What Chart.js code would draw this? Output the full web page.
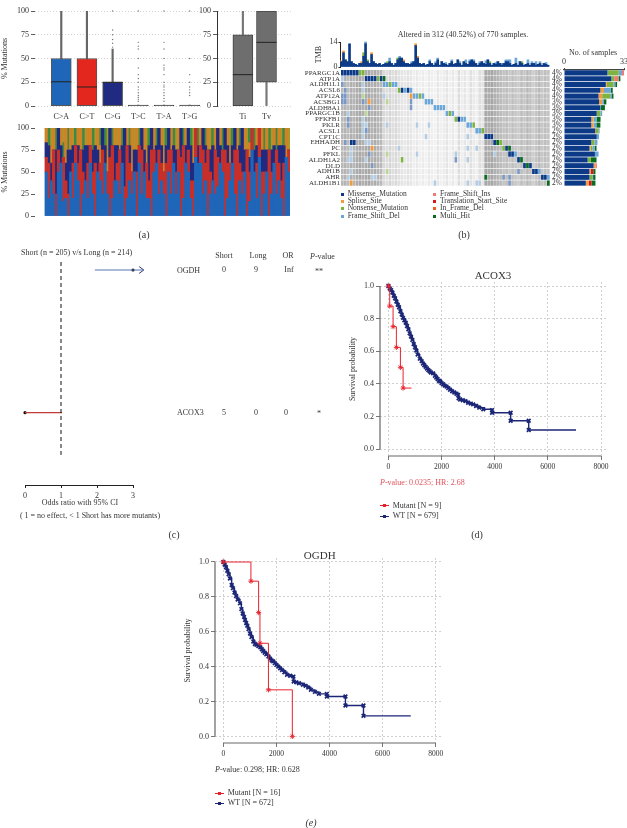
<!DOCTYPE html>
<html>
<head>
<meta charset="utf-8">
<title>Mutation panels</title>
<script src="https://cdn.jsdelivr.net/npm/chart.js@4"></script>
<style>
html, body { margin: 0; background: #fff; }
#page { position: relative; width: 627px; height: 828px; overflow: hidden; font-family: "Liberation Serif", serif; color: #333; filter: blur(0.3px); }
#page canvas { position: absolute; }
.txt { position: absolute; white-space: nowrap; line-height: 1; transform: translateY(-50%); opacity: 0.99; }
.ctr { transform: translate(-50%, -50%); }
.sq { position: absolute; width: 3px; height: 3px; }
.ln { position: absolute; width: 9px; height: 1px; }
.mk { position: absolute; width: 3px; height: 3px; }
</style>
</head>
<body>
<div id="page"></div>
<script>
// panel a, box plots
const classNames = ['C>A', 'C>T', 'C>G', 'T>C', 'T>A', 'T>G'];
const classColors = ['#1f66b8', '#e3261e', '#1f2a80', '#a0a0a0', '#a0a0a0', '#a0a0a0'];
const classQ1 = [0, 0, 0, 0, 0, 0];
const classQ3 = [50, 50, 25, 1, 1, 1];
const classMedian = [25.5, 20, 25, 0, 0, 0];
const classWhisker = [100, 100, 60, 1, 1, 1];
const outliersCG = [62, 66, 70, 75, 80, 100];
const outliersTC = [5, 7, 9, 11, 14, 17, 20, 25, 29, 33, 40, 50, 60, 63, 67, 100];
const outliersTA = [5, 8, 11, 14, 17, 20, 22, 25, 33, 38, 40, 43, 50, 60, 67, 100];
const outliersTG = [11, 14, 17, 20, 25, 33, 50, 100];
const titvNames = ['Ti', 'Tv'];
const titvQ1 = [0, 25];
const titvQ3 = [75, 100];
const titvMedian = [33, 67];
const titvLow = [0, 0];
const titvHigh = [100, 100];
const pctTicks = [0, 25, 50, 75, 100];

// panel a, per sample counts of each class
const countCA = [3,1,2,1,0,2,3,1,1,0,2,1,3,2,0,1,2,1,3,1,0,2,2,1,3,1,0,1,2,2,1,3,0,1,2,1,2,0,3,1,2,1,1,0,2,3,1,2,1,0,2,1,3,1,2,0,1,3,2,1,0,2,3,3,1,2,0,1,2,1,1,3,2,0,1,2,3,1,0,2,1,2,0,1,3,2,1,2,0,1,2,0,1,3,1,2,1,0,2,2];
const countCT = [1,2,0,2,1,1,0,3,1,1,0,2,1,1,3,1,0,2,1,1,3,0,1,2,0,1,2,3,0,1,2,0,1,3,1,1,0,2,1,2,0,2,1,3,1,0,2,1,1,3,1,2,0,1,1,2,3,0,1,1,2,1,0,1,2,1,3,1,0,2,1,0,1,3,2,1,0,2,3,1,1,0,3,2,1,0,2,1,2,1,0,3,1,0,2,1,1,3,0,1];
const countCG = [1,1,1,0,2,1,1,0,1,2,1,1,0,1,0,1,2,1,0,1,1,1,0,1,1,0,1,0,2,1,0,1,2,0,1,0,1,1,0,1,1,0,2,1,0,1,1,1,0,1,1,0,1,1,0,1,0,1,1,2,1,0,1,0,1,1,0,1,2,0,1,1,0,1,1,0,1,1,0,1,2,1,0,1,0,1,1,0,1,1,1,0,1,1,0,1,2,1,0,0];
const countTC = [1,0,1,1,0,0,1,0,2,0,1,0,0,1,1,0,0,1,1,0,0,1,1,0,0,1,0,0,1,0,1,0,0,1,0,2,0,1,0,0,1,1,0,0,1,0,0,1,1,0,0,1,0,0,1,0,0,1,0,0,1,0,0,1,0,0,1,0,0,1,0,1,0,0,1,1,0,0,1,0,0,1,0,1,0,0,1,0,1,0,1,0,0,1,0,1,0,0,1,0];
const countTA = [0,1,0,0,1,0,0,1,0,1,0,0,1,0,0,1,0,0,0,1,0,0,1,0,1,0,0,1,0,0,0,1,0,0,1,0,0,0,1,0,0,0,1,0,0,1,0,0,0,1,0,0,1,0,0,0,1,0,0,1,0,0,1,0,0,1,0,0,1,0,0,0,1,0,0,0,1,0,0,1,0,0,0,1,0,1,0,0,0,1,0,1,0,0,1,0,0,1,0,0];
const countTG = [0,0,1,0,0,0,0,1,0,0,0,1,0,0,0,0,1,0,0,0,1,0,0,0,0,1,0,0,0,1,0,0,0,0,0,0,1,0,0,0,0,1,0,0,0,0,0,0,1,0,0,0,0,1,0,0,0,0,0,0,1,0,0,0,0,0,0,1,0,0,0,0,0,0,0,1,0,0,0,0,0,0,1,0,0,0,0,0,0,0,0,0,1,0,0,0,1,0,0,1];
const stackColors = ['#1f66b8', '#c62f2a', '#1f2a80', '#cf8226', '#3d8a45', '#b0962a'];

// panel b, oncoplot
const geneNames = ['PPARGC1A', 'ATP1A', 'ALDH1L1', 'ACSL6', 'ATP12A', 'ACSBG1', 'ALDH8A1', 'PPARGC1B', 'PFKFB1', 'PKLR', 'ACSL1', 'CPT1C', 'EHHADH', 'PC', 'PFKL', 'ALDH1A2', 'DLD', 'ADH1B', 'AHR', 'ALDH1B1'];
const genePercents = ['4%', '4%', '4%', '4%', '4%', '3%', '3%', '3%', '3%', '3%', '2%', '2%', '2%', '2%', '2%', '2%', '2%', '2%', '2%', '2%'];
const columnGreys = ['#b8b8b8', '#b4b4b4', '#bcbcbc', '#b0b0b0', '#b6b6b6', '#acacac', '#a8a8a8', '#b0b0b0', '#aaaaaa', '#a8a8a8', '#b2b2b2', '#acacac', '#b4b4b4', '#b8b8b8', '#d8d8d8', '#dcdcdc', '#d4d4d4', '#dedede', '#d8d8d8', '#e0e0e0', '#e4e4e4', '#e8e8e8', '#e2e2e2', '#e6e6e6', '#eeeeee', '#e8e8e8', '#f0f0f0', '#ececec', '#f2f2f2', '#e8e8e8', '#eeeeee', '#f2f2f2', '#e6e6e6', '#f0f0f0', '#ececec', '#e4e4e4', '#f0f0f0', '#e8e8e8', '#f2f2f2', '#dcdcdc', '#eeeeee', '#e6e6e6', '#f0f0f0', '#e0e0e0', '#eaeaea', '#f0f0f0', '#dedede', '#e4e4e4', '#a8a8a8', '#acacac', '#a6a6a6', '#b0b0b0', '#b4b4b4', '#bababa', '#c2c2c2', '#bcbcbc', '#c8c8c8', '#bebebe', '#c4c4c4', '#cacaca', '#bcbcbc', '#c6c6c6', '#b8b8b8', '#c0c0c0', '#cccccc', '#c2c2c2', '#b8b8b8', '#c6c6c6', '#bebebe', '#c4c4c4'];
const geneMarks = [
  'M0 M1 M2 M3 M4 M5 N6 N7',
  'L0 M8 M9 M10 M11 N12 M13 H14',
  'P0 L7 D14 D15 N16 D17 D18',
  'P1 L7 N19 M20 D21 M22 D23',
  'P0 P1 O7 L14 S23 D24 D25 N26 D27',
  'P0 P1 P7 S9 O15 P23 D28 D29 D30',
  'P9 P23 D31 D32 D33 D34',
  'L2 O8 D35 N36 D37',
  'P2 L7 N38 M39 D40 D41',
  'P2 L7 L8 L15 L25 L29 D42 D43 N44',
  'L7 P8 D45 D46 N47',
  'L7 L28 L42 M48 M49 M50',
  'P1 M3 M4 L8 L9 M51 H52 N53',
  'L3 S10 L19 L42 L45 N54 M55 H56',
  'L3 P9 O15 L25 L38 L51 M56 M57 D58',
  'L2 L3 L8 N20 P38 L42 M59 H60',
  'P10 M61 H62 M63',
  'L3 O15 P59 M64 M65 D66',
  'L2 L10 L11 H48 P54 P56 M67 M68 D69',
  'S3 L31 L42 L45 L46 P56 H69'
];
const markTypes = ['M', 'S', 'N', 'D', 'I', 'T', 'F', 'H'];
const markNames = ['Missense_Mutation', 'Splice_Site', 'Nonsense_Mutation', 'Frame_Shift_Del', 'Frame_Shift_Ins', 'Translation_Start_Site', 'In_Frame_Del', 'Multi_Hit'];
const markColors = ['#0c3a87', '#f49a3c', '#7fb341', '#6ba6d6', '#ef7a7a', '#d7191c', '#e8601c', '#0a6a1e'];
// single thin marks off the waterfall read paler in the picture
const paleTypes = ['P', 'L', 'O'];
const paleColors = ['#7c98c4', '#b4cce2', '#bcd69a'];

// panel b, samples per gene by type
const barMissense = [23.9, 26, 23, 20, 19, 19.3, 20, 18, 15, 15, 17.2, 18, 15, 14, 17, 13, 16.3, 14, 14, 12];
const barSplice = [0, 0, 0.6, 2, 2, 1.7, 0, 0, 1.1, 1.3, 0.4, 0, 0, 0.7, 0, 0, 0.9, 0.6, 0, 1.6];
const barNonsense = [6.2, 1.6, 3.6, 0, 4.4, 0, 0, 2, 0.3, 0, 1.5, 0, 1.8, 0.9, 0, 1.8, 0, 0, 1.5, 0];
const barFsDel = [1.8, 0, 1, 3.7, 0.7, 1, 0.3, 1, 1.5, 1.5, 0.5, 1.3, 1.6, 1.3, 2, 0, 0, 0, 0.5, 0];
const barFsIns = [1.1, 2.4, 0, 0, 0, 0, 0, 0, 0, 0, 0, 0, 0, 0, 0, 0, 0.9, 0, 0, 0];
const barTransl = [0, 0, 0, 0, 0, 0, 0, 0, 0, 0, 0, 0, 0, 0, 0, 0, 0, 1.5, 0, 1.5];
const barInFrame = [0, 0, 0, 0, 0, 0, 0, 0, 0, 0, 0, 0, 0, 0, 0, 0, 0, 0, 0, 0];
const barMulti = [0, 1, 1, 1.1, 1.1, 1.3, 2.2, 0, 2.2, 2.2, 0, 0, 0, 1, 0, 3.1, 0, 1.2, 1.3, 2.2];

// panel b, tmb bars
const tmbMissense = [3,8,4,3,12,3,2,1.5,1,2,2,6,13,3,2,7,3,2,1.5,2,1,1.5,2,2,3,2,1,2,4,5,5,3,2,2,1.5,2,3,12,5,2,1.5,2,1,1.5,3,2,1,2,4,1,3,2,1.5,1,2,3,1.5,2,4,2,1,3,2,1.5,3,4,3,2,1,2,3,2,1.5,4,2,1,2,1.5,3,2,1,2,3,3,2,1,1.5,2,1,3,2,1,1.5,2,1,2,2,1,1.5,2,1,2,1.5,1];
const tmbOther = [0.5,1,0,0,1,0,0,0,0,0,1,2,1,1,0,1,0,0,0,0,0,0,0.5,1,2,0,0,0,1,1,0,1,0,0,0,1,0,1,1,0,0,0,0,0,1,0,0,1,1,0,0,0,1,0,0,1,0,0,0,1,0,0,2,0,1,0,1,0,0,1,0,0,2,0,1,0,0,1,0,0,1,0,1,1,2,0,0,3,0,0,1,0,0,2,0,1,0,2,0,1,0,0,1,0];
const tmbOtherTypes = 'SSNNMDDDDDSNDNNSDDDDDDDNDDDDNDDSDDDDDSSDDDDDDDNDDDDDDDDDNDDDNSDNDDDDDDSDDDNDDDDDDDDDDDDDDDNDDDDDDDNDDDDDD';
const tmbTicks = [0, 14];
const sampleTicks = [0, 33];

// panel c, forest
const forestGenes = ['ACOX3', 'OGDH'];
const forestLow = [0, 1.94];
const forestHigh = [1.03, 3.3];
const forestOr = [0, 3];
const forestColors = ['#c23b3b', '#5a74ad'];
const forestTicks = [0, 1, 2, 3];

// panels d and e, survival
const kmDayTicks = [0, 2000, 4000, 6000, 8000];
const kmProbTicks = [0, 0.2, 0.4, 0.6, 0.8, 1];
const acoxWtDays = [0,50,100,150,200,250,300,350,400,450,500,550,600,650,700,750,800,850,900,950,1000,1050,1100,1180,1250,1300,1350,1400,1450,1500,1550,1600,1683,1750,1800,1850,1900,1950,2000,2060,2120,2186,2250,2320,2400,2480,2560,2625,2640,2700,2800,2900,3000,3100,3190,3300,3420,3570,3900,3900,4600,4600,5280,5280,7060];
const acoxWtProb = [1,0.985,0.975,0.96,0.94,0.925,0.905,0.885,0.87,0.845,0.825,0.805,0.79,0.775,0.755,0.735,0.71,0.69,0.67,0.645,0.625,0.605,0.58,0.555,0.54,0.525,0.515,0.505,0.495,0.485,0.478,0.47,0.465,0.45,0.44,0.43,0.42,0.415,0.405,0.398,0.39,0.384,0.375,0.365,0.355,0.348,0.34,0.333,0.312,0.305,0.3,0.295,0.285,0.28,0.275,0.265,0.255,0.245,0.24,0.224,0.224,0.175,0.175,0.118,0.118];
const acoxMutDays = [0, 50, 176, 300, 452, 553, 867];
const acoxMutProb = [1, 0.877, 0.751, 0.624, 0.502, 0.375, 0.375];
const ogdhWtDays = [0,50,100,150,200,250,314,360,420,480,540,628,680,730,780,816,860,900,950,1005,1060,1130,1190,1250,1320,1394,1450,1500,1560,1620,1700,1760,1820,1880,1940,2000,2070,2140,2210,2300,2400,2520,2640,2650,2750,2850,3000,3100,3200,3300,3450,3600,3900,3900,4600,4600,5280,5280,7060];
const ogdhWtProb = [1,0.985,0.97,0.95,0.93,0.905,0.868,0.85,0.825,0.805,0.785,0.763,0.73,0.705,0.685,0.668,0.65,0.635,0.615,0.59,0.57,0.544,0.53,0.525,0.518,0.511,0.5,0.49,0.48,0.47,0.458,0.445,0.435,0.43,0.42,0.41,0.4,0.39,0.38,0.368,0.353,0.348,0.343,0.315,0.31,0.305,0.296,0.29,0.28,0.267,0.255,0.244,0.244,0.229,0.229,0.177,0.177,0.118,0.118];
const ogdhMutDays = [0, 1040, 1330, 1380, 1700, 2600];
const ogdhMutProb = [1, 0.89, 0.71, 0.534, 0.267, 0];

const page = document.getElementById('page');
const SERIF = '"Liberation Serif", serif';
Chart.defaults.font.family = SERIF;
Chart.defaults.font.size = 8;
Chart.defaults.color = '#333';

function text(html, x, y, size, opts) {
  opts = opts || {};
  const el = document.createElement('div');
  el.className = 'txt' + (opts.center ? ' ctr' : '');
  el.innerHTML = html;
  el.style.left = x + 'px';
  el.style.top = y + 'px';
  el.style.fontSize = size + 'px';
  if (opts.color) el.style.color = opts.color;
  page.appendChild(el);
}

// box is the plot area in page pixels, margin is the room round it
function addChart(box, margin, config) {
  const canvas = document.createElement('canvas');
  const w = Math.round(box.right - box.left + margin.l + margin.r);
  const h = Math.round(box.bottom - box.top + margin.t + margin.b);
  canvas.width = w;
  canvas.height = h;
  canvas.style.left = (box.left - margin.l) + 'px';
  canvas.style.top = (box.top - margin.t) + 'px';
  canvas.style.width = w + 'px';
  canvas.style.height = h + 'px';
  page.appendChild(canvas);
  const used = {};
  Object.keys(config.options.scales).forEach(function (id) {
    const s = config.options.scales[id];
    const pos = s.position || (id[0] === 'y' ? 'left' : 'bottom');
    if (s.display === false) return;
    used[pos] = true;
    const size = { left: margin.l, right: margin.r, top: margin.t, bottom: margin.b }[pos];
    s.afterFit = function (scale) {
      if (pos === 'left' || pos === 'right') scale.width = size; else scale.height = size;
      scale.paddingLeft = scale.paddingRight = scale.paddingTop = scale.paddingBottom = 0;
    };
  });
  config.options.responsive = false;
  config.options.animation = false;
  config.options.events = [];
  config.options.plugins = { legend: { display: false }, tooltip: { enabled: false } };
  config.options.layout = { padding: {
    left: used.left ? 0 : margin.l,
    right: used.right ? 0 : margin.r,
    top: used.top ? 0 : margin.t,
    bottom: used.bottom ? 0 : margin.b
  } };
  return new Chart(canvas.getContext('2d'), config);
}

function fixedTicks(values) {
  return function (scale) { scale.ticks = values.map(function (v) { return { value: v }; }); };
}

function scatterOf(x, ys) {
  return ys.map(function (y) { return { x: x, y: y }; });
}

function boxDatasets(lows, q1s, q3s, highs, medians, colors, edge, whisker) {
  return [
    { type: 'bar', grouped: false, order: 3, barThickness: 1.5, backgroundColor: whisker,
      data: lows.map(function (v, i) { return { x: i, y: [v, highs[i]] }; }) },
    { type: 'bar', grouped: false, order: 2, barThickness: 20, backgroundColor: colors, borderColor: edge, borderWidth: 1, borderSkipped: false,
      data: q1s.map(function (v, i) { return { x: i, y: [v, q3s[i]] }; }) },
    { type: 'scatter', order: 1, pointStyle: 'line', pointRadius: 10, pointBorderColor: '#222', pointBorderWidth: 1,
      data: medians.map(function (v, i) { return { x: i, y: v }; }) }
  ];
}

function pctScale(border) {
  return {
    min: 0, max: 100,
    afterBuildTicks: fixedTicks(pctTicks),
    grid: { color: '#c8c8c8', lineWidth: 0.8, tickColor: '#333', tickLength: 4, tickBorderDash: [] },
    border: { display: border, color: '#333', dash: [1, 2] },
    ticks: { padding: 2, font: { size: 8 } }
  };
}

// class box plot
const classScale = pctScale(false);
classScale.title = { display: true, text: '% Mutations', padding: 0, font: { size: 8 } };
addChart({ left: 35, top: 4.3, right: 203, bottom: 106.3 }, { l: 35, t: 4, r: 14, b: 16 }, {
  type: 'bar',
  data: { datasets: boxDatasets(classQ1, classQ1, classQ3, classWhisker, classMedian, classColors, '#555', '#666').concat([
    { type: 'scatter', order: 4, pointRadius: 0.7, pointBackgroundColor: '#777', pointBorderWidth: 0, clip: false,
      data: scatterOf(2, outliersCG).concat(scatterOf(3, outliersTC), scatterOf(4, outliersTA), scatterOf(5, outliersTG)) }
  ]) },
  options: { scales: {
    x: { type: 'linear', offset: false, min: -1.023, max: 5.52, afterBuildTicks: fixedTicks([0, 1, 2, 3, 4, 5]),
      grid: { display: false, drawTicks: false, offset: false }, border: { display: false },
      ticks: { padding: 6, maxRotation: 0, autoSkip: false, callback: function (v) { return classNames[v]; }, font: { size: 8 } } },
    y: classScale
  } }
});

// transition / transversion
addChart({ left: 216.7, top: 4.3, right: 293, bottom: 106.3 }, { l: 20, t: 4, r: 10, b: 16 }, {
  type: 'bar',
  data: { datasets: boxDatasets(titvLow, titvQ1, titvQ3, titvHigh, titvMedian, ['#6e6e6e', '#6e6e6e'], '#444', '#777') },
  options: { scales: {
    x: { type: 'linear', offset: false, min: -1.096, max: 2.08, afterBuildTicks: fixedTicks([0, 1]),
      grid: { display: false, drawTicks: false, offset: false }, border: { display: false },
      ticks: { padding: 6, maxRotation: 0, autoSkip: false, callback: function (v) { return titvNames[v]; }, font: { size: 8 } } },
    y: pctScale(true)
  } }
});

// per sample stacks
const stackCounts = [countCA, countCT, countCG, countTC, countTA, countTG];
const stackScale = pctScale(false);
stackScale.grid.drawOnChartArea = false;
stackScale.stacked = true;
stackScale.title = { display: true, text: '% Mutations', padding: 0, font: { size: 8 } };
addChart({ left: 35, top: 127.7, right: 290, bottom: 215.7 }, { l: 35, t: 6, r: 6, b: 6 }, {
  type: 'bar',
  data: { datasets: stackCounts.map(function (counts, c) {
    return {
      backgroundColor: stackColors[c], barThickness: 2.6,
      data: counts.map(function (n, i) {
        const total = stackCounts.reduce(function (sum, list) { return sum + list[i]; }, 0);
        return { x: i, y: n / total * 100 };
      })
    };
  }) },
  options: { scales: {
    x: { type: 'linear', offset: false, display: false, stacked: true, min: -4.58, max: 99.5 },
    y: stackScale
  } }
}).canvas.style.filter = 'blur(0.7px)';

// oncoplot matrix
function markColor(rowIndex, col) {
  const tokens = geneMarks[rowIndex].split(' ');
  for (let i = 0; i < tokens.length; i++) {
    if (parseInt(tokens[i].slice(1), 10) !== col) continue;
    const t = tokens[i][0];
    return markTypes.indexOf(t) >= 0 ? markColors[markTypes.indexOf(t)] : paleColors[paleTypes.indexOf(t)];
  }
  return columnGreys[col];
}
const rowMid = geneNames.map(function (g, i) { return i + 0.5; });
addChart({ left: 340.7, top: 70, right: 549.3, bottom: 185.7 }, { l: 42, t: 6, r: 14, b: 6 }, {
  type: 'bar',
  data: {
    labels: columnGreys.map(function (g, i) { return i; }),
    datasets: geneNames.map(function (g, r) {
      return {
        label: g, barPercentage: 1, categoryPercentage: 1, borderSkipped: false,
        borderColor: 'rgba(255,255,255,0.75)', borderWidth: { right: 0.6, bottom: 0.7 },
        backgroundColor: columnGreys.map(function (c, col) { return markColor(r, col); }),
        data: columnGreys.map(function () { return 1; })
      };
    })
  },
  options: { scales: {
    x: { display: false, stacked: true },
    y: { stacked: true, reverse: true, min: 0, max: geneNames.length, afterBuildTicks: fixedTicks(rowMid),
      grid: { display: false, drawTicks: false }, border: { display: false },
      ticks: { padding: 1, autoSkip: false, font: { size: 7 }, callback: function (v) { return geneNames[Math.floor(v)]; } } },
    y2: { position: 'right', reverse: true, min: 0, max: geneNames.length, afterBuildTicks: fixedTicks(rowMid),
      grid: { display: false, drawTicks: false }, border: { display: false },
      ticks: { padding: 2, autoSkip: false, font: { size: 7.5 }, callback: function (v) { return genePercents[Math.floor(v)]; } } }
  } }
});

// tmb
addChart({ left: 340.7, top: 42, right: 549.3, bottom: 66.7 }, { l: 26.5, t: 6, r: 6, b: 6 }, {
  type: 'bar',
  data: {
    labels: tmbMissense.map(function (v, i) { return i; }),
    datasets: [
      { data: tmbMissense, backgroundColor: markColors[0], barPercentage: 1, categoryPercentage: 1, clip: false },
      { data: tmbOther, barPercentage: 1, categoryPercentage: 1, clip: false,
        backgroundColor: tmbOther.map(function (v, i) { return markColors[markTypes.indexOf(tmbOtherTypes[i])]; }) }
    ]
  },
  options: { scales: {
    x: { display: false, stacked: true },
    y: { stacked: true, min: 0, max: 14, afterBuildTicks: fixedTicks(tmbTicks),
      grid: { drawOnChartArea: false, tickColor: '#222', tickLength: 2 }, border: { color: '#222' },
      title: { display: true, text: 'TMB', padding: 0, font: { size: 8 } },
      ticks: { padding: 1, font: { size: 8 } } }
  } }
});

// samples per gene
addChart({ left: 563.7, top: 70, right: 623.7, bottom: 185.7 }, { l: 4, t: 14, r: 10, b: 3 }, {
  type: 'bar',
  data: {
    labels: geneNames,
    datasets: [barMissense, barSplice, barNonsense, barFsDel, barFsIns, barTransl, barInFrame, barMulti].map(function (values, t) {
      return { data: values, backgroundColor: markColors[t], barPercentage: 0.88, categoryPercentage: 1 };
    })
  },
  options: { indexAxis: 'y', scales: {
    x: { position: 'top', offset: false, stacked: true, min: 0, max: 33, afterBuildTicks: fixedTicks(sampleTicks),
      grid: { drawOnChartArea: false, tickColor: '#444', tickLength: 2 }, border: { color: '#444', width: 1.2 },
      ticks: { padding: 1, maxRotation: 0, font: { size: 8 } } },
    y: { display: false, stacked: true }
  } }
});

// forest plot
addChart({ left: 25.3, top: 262, right: 133.3, bottom: 485 }, { l: 6, t: 4, r: 16, b: 16 }, {
  type: 'scatter',
  data: { datasets: [
    { type: 'line', data: [{ x: 1, y: 2.056 }, { x: 1, y: 0.704 }], borderColor: '#111', borderWidth: 1, borderDash: [4, 3], pointRadius: 0, clip: false },
    { type: 'line', data: [{ x: forestLow[0], y: 1 }, { x: forestHigh[0], y: 1 }], borderColor: forestColors[0], borderWidth: 1.2, pointRadius: 0, clip: false },
    { type: 'line', data: [{ x: forestLow[1], y: 2 }, { x: forestHigh[1], y: 2 }], borderColor: forestColors[1], borderWidth: 1.2, pointRadius: 0, clip: false },
    { type: 'line', data: [{ x: forestHigh[1] - 0.13, y: 2.024 }, { x: forestHigh[1], y: 2 }, { x: forestHigh[1] - 0.13, y: 1.976 }], borderColor: '#2b3a6b', borderWidth: 1, pointRadius: 0, clip: false },
    { data: [{ x: forestOr[0], y: 1 }, { x: forestOr[1], y: 2 }], pointRadius: 1.6, pointBackgroundColor: '#111', pointBorderWidth: 0, clip: false }
  ] },
  options: { scales: {
    x: { type: 'linear', min: 0, max: 3, afterBuildTicks: fixedTicks(forestTicks),
      grid: { drawOnChartArea: false, tickColor: '#222', tickLength: 3 }, border: { color: '#222' },
      ticks: { padding: 3, font: { size: 8 } } },
    y: { type: 'linear', display: false, min: 0.493, max: 2.056 }
  } }
});

// survival curve helper
function kmPoints(days, probs) {
  return days.map(function (d, i) { return { x: d, y: probs[i] }; });
}
// no censor mark on a flat tail end
function tailHidden(probs, r) {
  return probs.map(function (p, i) { return i === probs.length - 1 && p === probs[i - 1] ? 0 : r; });
}
const spanAxes = {
  id: 'spanAxes',
  afterDraw: function (chart) {
    const c = chart.ctx, a = chart.chartArea, x = chart.scales.x, y = chart.scales.y;
    c.save();
    c.strokeStyle = '#666';
    c.lineWidth = 1.2;
    c.beginPath();
    c.moveTo(a.left, y.getPixelForValue(1));
    c.lineTo(a.left, y.getPixelForValue(0));
    c.moveTo(x.getPixelForValue(0), a.bottom);
    c.lineTo(x.getPixelForValue(8000), a.bottom);
    c.stroke();
    c.restore();
  }
};
function kmChart(box, margin, wtDays, wtProb, mutDays, mutProb, xMin, xMax, yMin, yMax) {
  const grid = { color: '#c4c4c4', lineWidth: 0.8, tickColor: '#555', tickLength: 4, tickBorderDash: [] };
  addChart(box, margin, {
    type: 'line',
    data: { datasets: [
      { data: kmPoints(mutDays, mutProb), stepped: true, borderColor: '#e8222c', borderWidth: 1, pointStyle: 'star', pointBorderColor: '#e8222c', pointBorderWidth: 0.9, pointRadius: tailHidden(mutProb, 2.6), order: 1, clip: false },
      { data: kmPoints(wtDays, wtProb), stepped: true, borderColor: '#1c2677', borderWidth: 1.4, pointStyle: 'crossRot', pointBorderColor: '#1c2677', pointBorderWidth: 1.7, pointRadius: tailHidden(wtProb, 2.6), order: 2, clip: false }
    ] },
    options: { scales: {
      x: { type: 'linear', min: xMin, max: xMax, afterBuildTicks: fixedTicks(kmDayTicks), grid: grid, border: { display: false, dash: [2, 2] },
        ticks: { padding: 3, maxRotation: 0, font: { size: 7.5 }, callback: function (v) { return String(v); } } },
      y: { min: yMin, max: yMax, afterBuildTicks: fixedTicks(kmProbTicks), grid: grid, border: { display: false, dash: [2, 2] },
        title: { display: true, text: 'Survival probability', padding: 0, font: { size: 8 } },
        ticks: { padding: 2, font: { size: 8 }, callback: function (v) { return v.toFixed(1); } } }
    } },
    plugins: [spanAxes]
  });
}
kmChart({ left: 380.3, top: 282, right: 608, bottom: 456 }, { l: 32, t: 6, r: 15, b: 18 }, acoxWtDays, acoxWtProb, acoxMutDays, acoxMutProb, -316, 8263, -0.041, 1.0245);
kmChart({ left: 215, top: 558, right: 443, bottom: 743.3 }, { l: 32, t: 6, r: 15, b: 18 }, ogdhWtDays, ogdhWtProb, ogdhMutDays, ogdhMutProb, -313, 8275, -0.0378, 1.0229);

// page text
text('(a)', 144, 235, 10, { center: true });
text('(b)', 464, 235, 10, { center: true });
text('(c)', 174, 535, 10, { center: true });
text('(d)', 477, 535, 10, { center: true });
text('<i>(e)</i>', 311, 823, 10, { center: true });

text('Altered in 312 (40.52%) of 770 samples.', 463, 35, 8, { center: true });
text('No. of samples', 593, 53, 8, { center: true });
markNames.forEach(function (name, i) {
  const col = i < 4 ? 0 : 1;
  const row = [194, 201, 208, 216][i % 4];
  const sq = document.createElement('div');
  sq.className = 'sq';
  sq.style.left = [341, 433][col] + 'px';
  sq.style.top = (row - 1.5) + 'px';
  sq.style.background = markColors[i];
  page.appendChild(sq);
  text(name, [347.7, 440][col], row, 7.5);
});

text('Short (n = 205) v/s Long (n = 214)', 21, 253, 8);
text('Short', 224, 256, 8, { center: true });
text('Long', 258, 256, 8, { center: true });
text('OR', 288, 256, 8, { center: true });
text('<i>P</i>-value', 310, 256.7, 8);
text(forestGenes[1], 177, 270.7, 8);
text('0', 224, 270, 8, { center: true });
text('9', 256, 270, 8, { center: true });
text('Inf', 289, 270, 8, { center: true });
text('**', 319, 272, 8, { center: true });
text(forestGenes[0], 177, 413, 8);
text('5', 224, 413, 8, { center: true });
text('0', 256, 413, 8, { center: true });
text('0', 286, 413, 8, { center: true });
text('*', 319, 414, 8, { center: true });
text('Odds ratio with 95% CI', 80, 503, 8, { center: true });
text('( 1 = no effect, &lt; 1 Short has more mutants)', 90, 516, 8, { center: true });

function kmLegend(x, y, color, name) {
  const ln = document.createElement('div');
  ln.className = 'ln';
  ln.style.left = x + 'px';
  ln.style.top = (y - 0.5) + 'px';
  ln.style.background = color;
  page.appendChild(ln);
  const mk = document.createElement('div');
  mk.className = 'mk';
  mk.style.left = (x + 3) + 'px';
  mk.style.top = (y - 1.5) + 'px';
  mk.style.background = color;
  page.appendChild(mk);
  text(name, x + 12.7, y, 8);
}
text('ACOX3', 493, 275, 11, { center: true });
text('<i>P</i>-value: 0.0235; HR: 2.68', 380, 483, 8, { color: '#e0505a' });
kmLegend(380, 505.7, '#e8222c', 'Mutant [N = 9]');
kmLegend(380, 516, '#1c2677', 'WT [N = 679]');
text('OGDH', 319.7, 555, 11, { center: true });
text('<i>P</i>-value: 0.298; HR: 0.628', 215, 770, 8);
kmLegend(215, 793, '#e8222c', 'Mutant [N = 16]');
kmLegend(215, 803, '#1c2677', 'WT [N = 672]');
</script>
</body>
</html>
